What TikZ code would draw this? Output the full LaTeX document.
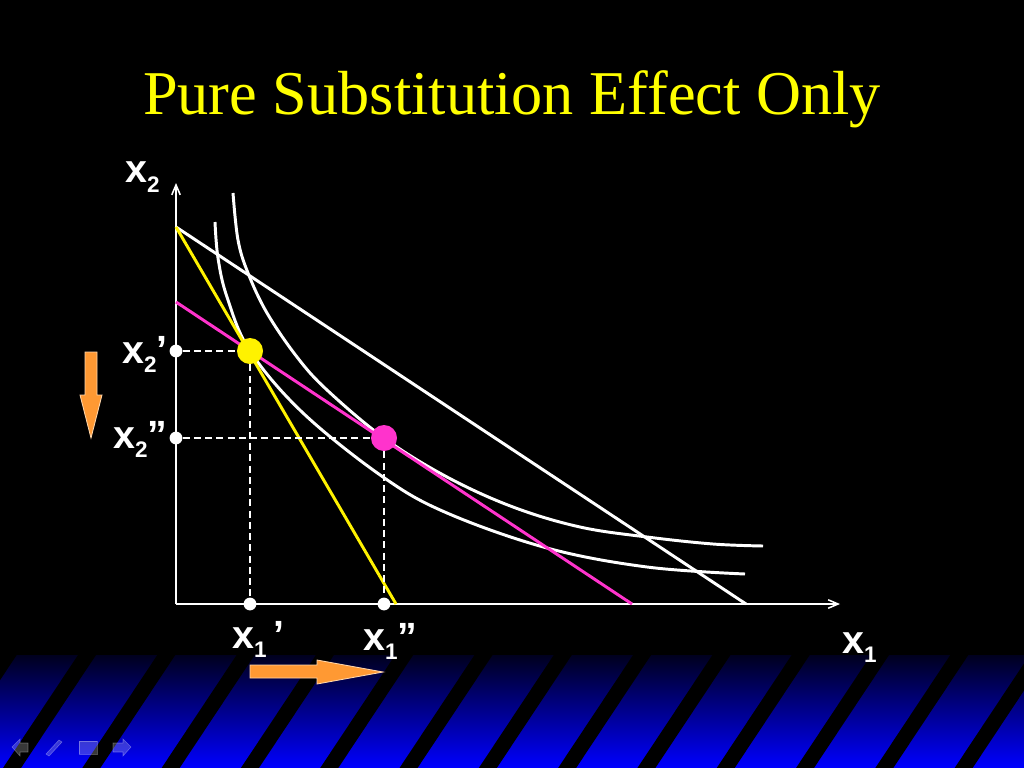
\documentclass[tikz,border=0pt]{standalone}
\usepackage{fontspec}
\setmainfont{Liberation Serif}
\setsansfont{Liberation Sans}
\usetikzlibrary{arrows.meta}

\definecolor{titleyellow}{RGB}{255,255,0}
\definecolor{hotpink}{RGB}{255,51,204}
\definecolor{arroworange}{RGB}{255,153,51}
\definecolor{arrowrim}{RGB}{255,214,170}
\definecolor{banddark}{RGB}{0,0,30}
\definecolor{bandmid}{RGB}{0,0,195}
\definecolor{bandblue}{RGB}{0,0,255}

\newcommand{\lowsub}[1]{\raisebox{-7pt}{\fontsize{16}{16}\selectfont #1}}

\begin{document}
\begin{tikzpicture}[
    x=0.025cm, y=-0.025cm,
    >={Straight Barb[length=7pt,width=6pt]},
    lab/.style={text=white, font=\sffamily\bfseries\fontsize{28}{28}\selectfont, inner sep=0pt, anchor=base west},
    curve/.style={draw=white, line width=2.1pt},
    budget/.style={line width=2.1pt},
    axis/.style={draw=white, line width=1.1pt},
    guide/.style={draw=white, line width=1.1pt, dash pattern=on 5pt off 3pt},
    axisdot/.style={circle, fill=white, inner sep=0pt, minimum size=0.32cm},
    bigdot/.style={circle, inner sep=0pt, minimum size=0.65cm},
    fatarrow/.style={fill=arroworange, draw=arrowrim, line width=0.6pt},
    navicon/.style={fill=white, fill opacity=0.22, draw=white, draw opacity=0.3, line width=0.4pt}
  ]
    \fill[black] (0,0) rectangle (1024,768);
    \useasboundingbox (0,0) rectangle (1024,768);

    \begin{scope}
      \clip (0,655) rectangle (1024,768);
      \shade[top color=banddark, middle color=bandmid, bottom color=bandblue] (0,655) rectangle (1024,768);
      \foreach \k in {-1,...,13}
        \fill[black] ({78+79.3*\k},655) -- ++(18,0) -- ++(-75,113) -- ++(-18,0) -- cycle;
    \end{scope}

    \filldraw[navicon] (12,747) -- (20,739) -- (20,743) -- (28,743) -- (28,752) -- (20,752) -- (20,756) -- cycle;
    \filldraw[navicon] (46,754) -- (59,740) -- (62,742) -- (49,756) -- cycle;
    \filldraw[navicon] (79,741) rectangle (97,754);
    \filldraw[navicon] (131,747) -- (123,739) -- (123,743) -- (113,743) -- (113,752) -- (123,752) -- (123,756) -- cycle;

    \node[text=titleyellow, font=\fontsize{44.3}{44.3}\selectfont, anchor=base] (title) at (512,115) {Pure Substitution Effect Only};

    \coordinate (O) at (176,604);
    \coordinate (ytip) at (176,183);
    \coordinate (xtip) at (840,604);
    \coordinate (b1top) at (176,227);
    \coordinate (b1end) at (746,604);
    \coordinate (b2end) at (396,604);
    \coordinate (b3top) at (176,302);
    \coordinate (b3end) at (632,604);

    \draw[axis, ->] (O) -- (ytip);
    \draw[axis, ->] (O) -- (xtip);

    \draw[curve] plot[smooth, tension=0.6] coordinates {(215,222) (218,258) (227,297) (250,351) (303,413) (383,477) (447,513) (547,548) (647,567) (745,574)};
    \draw[curve] plot[smooth, tension=0.6] coordinates {(233,193) (238,240) (248,273) (267,313) (297,357) (327,390) (384,438) (447,477) (513,507) (580,527) (647,537) (713,544) (763,546)};

    \draw[budget, white] (b1top) -- (b1end);
    \draw[budget, hotpink] (b3top) -- (b3end);
    \draw[budget, yellow] (b1top) -- (b2end);

    \node[bigdot, fill=yellow] (pa) at (250,351) {};
    \node[bigdot, fill=hotpink] (pb) at (384,438) {};
    \node[axisdot] (y2a) at (176,351) {};
    \node[axisdot] (y2b) at (176,438) {};
    \node[axisdot] (x1a) at (250,604) {};
    \node[axisdot] (x1b) at (384,604) {};

    \draw[guide] (y2a) -- (pa);
    \draw[guide] (pa) -- (x1a);
    \draw[guide] (y2b) -- (pb);
    \draw[guide] (pb) -- (x1b);

    \filldraw[fatarrow] (85,352) -- (97,352) -- (97,395) -- (102,395) -- (91,438) -- (80,395) -- (85,395) -- cycle;
    \filldraw[fatarrow] (250,665) -- (317,665) -- (317,660) -- (383,672) -- (317,684) -- (317,678) -- (250,678) -- cycle;

    \node[lab] (lx2) at (125,183) {x\lowsub{2}};
    \node[lab] (lx2a) at (122,363) {x\lowsub{2}’};
    \node[lab] (lx2b) at (113,448) {x\lowsub{2}”};
    \node[lab] (lx1a) at (232,648) {x\lowsub{1}\,’};
    \node[lab] (lx1b) at (363,650) {x\lowsub{1}”};
    \node[lab] (lx1) at (842,653) {x\lowsub{1}};
  \end{tikzpicture}
\end{document}
